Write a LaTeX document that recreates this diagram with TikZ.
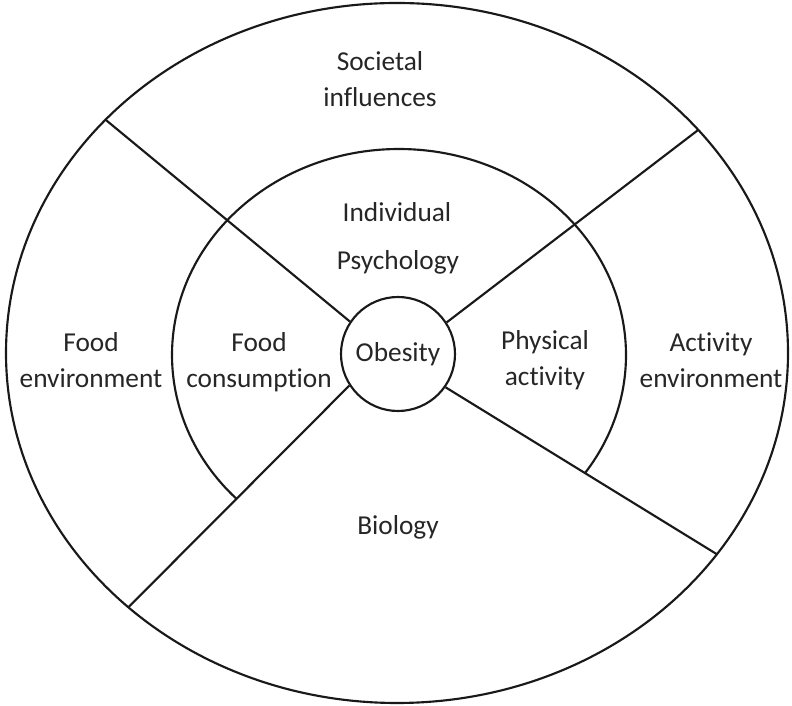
\documentclass[tikz,border=0pt]{standalone}
\usepackage{fontspec}
\setmainfont[Ligatures={NoCommon}]{Carlito}
\begin{document}
\begin{tikzpicture}[x=0.75pt,y=0.75pt,
  ring/.style={draw=black!90,line width=1.6pt},
  label/.style={text=black!85,font=\fontsize{20.5}{27}\selectfont,align=center,inner sep=0pt},
  core/.style={circle,draw=black!90,line width=1.6pt,minimum size=85.5pt,inner sep=0pt,
               text=black!85,font=\fontsize{20.5}{27}\selectfont}]
\useasboundingbox (0,0) rectangle (792,706);

% outer ellipse
\draw[ring] (397,353) ellipse[x radius=293.25pt,y radius=262.5pt];

% centre
\node[core] (ob) at (398,352) {Obesity};

% points where the dividing lines meet the outer ellipse
\coordinate (ul) at ({397+391*cos(138.2)},{353+350*sin(138.2)});
\coordinate (ur) at ({397+391*cos(39.6)},{353+350*sin(39.6)});
\coordinate (ll) at ({397+391*cos(226.6)},{353+350*sin(226.6)});
\coordinate (lr) at ({397+391*cos(-35.1)},{353+350*sin(-35.1)});

% dividing lines
\draw[ring] (ob.146.6) -- (ul);
\draw[ring] (ob.33.4) -- (ur);
\draw[ring] (ob.213.7) -- (ll);
\draw[ring] (ob.325.8) -- (lr);

% middle ring (open at the bottom)
\coordinate (arcstart) at ({399+227*cos(224.2)},{351+206*sin(224.2)});
\draw[ring] (arcstart) arc[start angle=224.2,end angle=-35,x radius=170.25pt,y radius=154.5pt];

% labels
\node[label] (soc) at (380,627) {Societal\\influences};
\node[label] (ind) at (397,494) {Individual};
\node[label] (psy) at (398,444) {Psychology};
\node[label] (fenv) at (91,346) {Food\\environment};
\node[label] (fcon) at (259,344) {Food\\consumption};
\node[label] (phys) at (545,346) {Physical\\activity};
\node[label] (aenv) at (711,346) {Activity\\environment};
\node[label] (bio) at (398,179) {Biology};
\end{tikzpicture}
\end{document}
